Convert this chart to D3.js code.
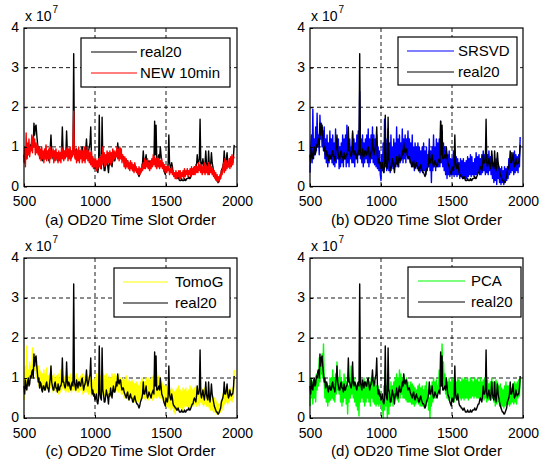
<!DOCTYPE html>
<html lang="en">
<head>
<meta charset="UTF-8"/>
<title>OD20 Time Slot Order</title>
<script src="https://d3js.org/d3.v7.min.js"></script>
<style>
	body { margin: 0; background: #fff; }
	text { font-family: Arial, "Liberation Sans", sans-serif; fill: #000; }
</style>
</head>
<body>
<script>
	var w = 540;	// Width of the SVG
	var h = 465;	// Height of the SVG

	var firstSlot = 500;	// slot of the first sample
	var slotStep = 5;		// one sample every 5 slots

	var xTicks = [500, 1000, 1500, 2000];
	var yTicks = [0, 1, 2, 3, 4];

	// all values in units of 10^7, one row = 100 slots
	var real20 = [
		0.8, 0.6, 0.95, 0.75, 0.7, 0.9, 1.0, 0.8, 0.85, 1.05, 1.0, 1.15, 1.2, 1.0, 1.6, 1.3, 1.5, 1.55, 1.3, 1.1,
		0.9, 1.0, 0.75, 0.9, 0.85, 0.7, 0.65, 0.8, 0.8, 0.7, 0.7, 0.85, 0.9, 0.75, 0.75, 0.65, 0.85, 1.0, 1.3, 0.9,
		0.8, 0.7, 0.7, 0.85, 0.9, 0.75, 0.75, 0.65, 0.85, 0.7, 0.7, 0.8, 0.8, 0.9, 1.5, 0.9, 0.9, 0.8, 0.75, 0.85,
		1.4, 0.9, 0.8, 0.9, 0.85, 0.75, 0.7, 0.85, 0.9, 0.8, 3.35, 0.9, 0.8, 0.7, 0.95, 0.85, 0.75, 0.9, 0.9, 0.8,
		0.8, 0.95, 1.0, 0.85, 0.7, 0.8, 0.85, 0.95, 1.2, 0.9, 0.8, 0.9, 1.0, 1.1, 1.5, 0.8, 0.6, 0.7, 0.55, 0.6,
		0.45, 0.5, 0.6, 0.4, 0.35, 0.5, 1.8, 0.6, 0.5, 0.45, 1.75, 0.7, 0.6, 0.4, 0.4, 0.55, 0.7, 0.6, 0.5, 0.35,
		0.6, 0.55, 0.75, 0.6, 0.5, 0.7, 0.8, 0.65, 0.65, 0.75, 0.9, 0.8, 1.1, 0.9, 0.85, 0.95, 0.95, 0.8, 0.7, 0.75,
		0.75, 0.65, 0.6, 0.55, 0.5, 0.6, 0.65, 0.5, 0.45, 0.55, 0.6, 0.5, 0.5, 0.4, 0.4, 0.5, 0.55, 0.45, 0.4, 0.35,
		0.35, 0.3, 0.25, 0.3, 0.4, 0.45, 0.5, 0.6, 0.9, 0.6, 0.6, 0.7, 0.8, 0.6, 0.5, 0.55, 0.65, 0.6, 0.55, 0.5,
		0.6, 0.65, 0.7, 0.6, 1.65, 0.8, 1.55, 0.7, 0.7, 0.75, 0.8, 0.7, 1.0, 0.8, 0.6, 0.55, 0.5, 0.4, 0.35, 0.3,
		0.5, 0.45, 0.4, 0.55, 1.3, 0.6, 0.5, 0.45, 0.6, 0.5, 0.35, 0.3, 0.3, 0.25, 0.25, 0.2, 0.2, 0.25, 0.2, 0.15,
		0.15, 0.15, 0.2, 0.15, 0.15, 0.15, 0.2, 0.15, 0.15, 0.2, 0.2, 0.2, 0.25, 0.2, 0.2, 0.25, 0.3, 0.35, 0.35, 0.45,
		0.5, 0.45, 0.4, 0.55, 0.8, 0.6, 0.6, 0.7, 1.7, 0.6, 0.5, 0.6, 0.7, 0.55, 0.45, 0.6, 0.9, 0.6, 0.5, 0.45,
		0.9, 0.55, 0.4, 0.6, 0.85, 0.6, 0.5, 0.4, 0.3, 0.25, 0.2, 0.15, 0.15, 0.1, 0.1, 0.15, 0.2, 0.25, 0.4, 0.45,
		0.5, 0.6, 0.9, 0.6, 0.6, 0.7, 0.85, 0.6, 0.5, 0.55, 0.7, 0.6, 0.55, 0.6, 0.6, 0.75, 1.05
	];

	var new10min = [
		0.6, 1.0, 0.5, 1.35, 0.7, 1.1, 0.8, 1.2, 0.75, 1.0, 0.9, 1.3, 0.85, 1.25, 1.0, 1.2, 0.8, 1.1, 0.85, 1.05,
		0.8, 1.0, 0.7, 0.95, 0.65, 1.0, 0.7, 0.9, 0.6, 0.95, 0.7, 1.05, 0.65, 0.9, 0.7, 0.95, 0.6, 1.0, 0.7, 0.9,
		0.75, 0.95, 0.6, 0.9, 0.65, 0.95, 0.7, 0.85, 0.6, 0.9, 0.65, 0.85, 0.6, 1.0, 0.7, 0.95, 0.65, 0.9, 0.7, 0.95,
		0.75, 1.0, 0.65, 0.95, 0.7, 1.0, 0.65, 0.9, 0.75, 1.0, 1.9, 0.8, 0.7, 0.95, 0.6, 0.9, 0.65, 1.0, 0.6, 0.9,
		0.7, 0.95, 0.6, 0.9, 0.65, 1.0, 0.6, 0.9, 0.7, 1.0, 0.65, 0.9, 0.6, 0.85, 0.55, 0.9, 0.5, 0.75, 0.45, 0.7,
		0.5, 0.7, 0.4, 0.65, 0.45, 0.7, 0.5, 0.75, 0.45, 0.8, 0.55, 1.0, 0.6, 0.85, 0.5, 0.8, 0.55, 0.9, 0.6, 0.85,
		0.6, 0.9, 0.55, 0.85, 0.6, 0.95, 0.65, 0.9, 0.7, 0.85, 0.75, 1.0, 0.7, 0.95, 0.65, 1.0, 0.7, 0.95, 0.6, 0.8,
		0.7, 0.5, 0.75, 0.45, 0.7, 0.5, 0.65, 0.45, 0.6, 0.4, 0.65, 0.45, 0.6, 0.4, 0.55, 0.35, 0.6, 0.4, 0.5, 0.35,
		0.45, 0.3, 0.5, 0.3, 0.45, 0.35, 0.55, 0.4, 0.6, 0.45, 0.7, 0.45, 0.65, 0.5, 0.7, 0.45, 0.6, 0.4, 0.65, 0.45,
		0.7, 0.5, 0.8, 0.55, 0.75, 0.5, 0.7, 0.45, 0.75, 0.5, 0.7, 0.45, 0.65, 0.5, 0.7, 0.45, 0.6, 0.4, 0.55, 0.35,
		0.5, 0.35, 0.55, 0.4, 0.5, 0.3, 0.45, 0.35, 0.5, 0.3, 0.4, 0.25, 0.35, 0.2, 0.4, 0.2, 0.35, 0.25, 0.4, 0.2,
		0.4, 0.2, 0.35, 0.25, 0.4, 0.2, 0.45, 0.25, 0.4, 0.3, 0.45, 0.25, 0.4, 0.3, 0.45, 0.25, 0.5, 0.3, 0.45, 0.3,
		0.5, 0.3, 0.55, 0.35, 0.5, 0.35, 0.6, 0.4, 0.55, 0.35, 0.55, 0.3, 0.5, 0.35, 0.6, 0.3, 0.55, 0.35, 0.5, 0.3,
		0.6, 0.3, 0.55, 0.35, 0.5, 0.3, 0.45, 0.25, 0.4, 0.2, 0.35, 0.15, 0.3, 0.1, 0.25, 0.15, 0.3, 0.2, 0.4, 0.3,
		0.45, 0.6, 0.35, 0.7, 0.4, 0.65, 0.45, 0.6, 0.5, 0.7, 0.45, 0.75, 0.5, 0.8, 0.55, 0.7, 0.75
	];

	var srsvd = [
		0.35, 1.0, 1.3, 0.6, 1.95, 0.7, 1.2, 0.8, 1.5, 0.9, 1.85, 1.0, 1.3, 0.8, 1.8, 1.2, 1.6, 1.0, 1.4, 0.9,
		1.5, 0.7, 1.2, 0.6, 1.3, 0.5, 1.1, 0.6, 1.4, 0.7, 1.2, 0.6, 1.3, 0.55, 1.1, 0.5, 1.45, 0.6, 1.2, 0.7,
		1.2, 0.45, 1.0, 0.5, 1.1, 0.6, 1.3, 0.5, 1.2, 0.7, 1.3, 0.5, 1.55, 0.6, 1.1, 0.5, 1.2, 0.7, 1.0, 0.6,
		1.35, 0.6, 1.2, 0.5, 1.1, 0.7, 1.3, 0.6, 1.4, 0.8, 2.4, 0.7, 1.2, 0.6, 1.3, 0.5, 1.1, 0.6, 1.2, 0.7,
		1.3, 0.6, 1.45, 0.5, 1.2, 0.6, 1.3, 0.7, 1.5, 0.6, 1.3, 0.55, 1.2, 0.5, 1.3, 0.45, 1.0, 0.4, 0.9, 0.3,
		0.15, 0.8, 0.4, 1.1, 0.35, 1.7, 0.5, 1.2, 0.4, 1.0, 1.45, 0.4, 1.1, 0.35, 1.3, 0.5, 1.0, 0.45, 1.2, 0.5,
		1.1, 0.5, 1.5, 0.6, 1.2, 0.5, 1.3, 0.6, 1.1, 0.7, 1.45, 0.6, 1.2, 0.7, 1.3, 0.6, 1.2, 0.8, 1.4, 0.7,
		1.2, 0.6, 1.1, 0.5, 1.3, 0.5, 1.0, 0.4, 1.1, 0.5, 1.0, 0.45, 1.1, 0.4, 1.0, 0.35, 0.9, 0.4, 1.0, 0.35,
		1.1, 0.4, 0.9, 0.3, 1.0, 0.4, 0.8, 0.5, 1.2, 0.4, 0.9, 0.1, 1.0, 0.4, 1.3, 0.5, 1.0, 0.4, 1.2, 0.5,
		1.1, 0.5, 1.2, 0.5, 1.65, 0.6, 1.4, 0.5, 1.1, 0.4, 1.0, 0.3, 0.9, 0.2, 0.8, 0.3, 0.9, 0.25, 0.7, 0.3,
		0.7, 0.3, 0.9, 0.25, 0.8, 0.3, 0.75, 0.25, 0.7, 0.3, 0.6, 0.2, 0.7, 0.25, 0.65, 0.2, 0.7, 0.25, 0.6, 0.2,
		0.65, 0.2, 0.75, 0.25, 0.7, 0.3, 0.8, 0.25, 0.75, 0.3, 0.6, 0.25, 0.7, 0.3, 0.85, 0.3, 0.75, 0.35, 0.8, 0.3,
		0.7, 0.3, 0.8, 0.35, 0.9, 0.4, 0.8, 0.3, 1.0, 0.35, 0.8, 0.3, 0.9, 0.4, 0.75, 0.3, 0.8, 0.2, 0.6, 0.1,
		0.6, 0.15, 0.7, 0.05, 0.6, 0.2, 0.5, 0.1, 0.45, 0.05, 0.5, 0.1, 0.4, 0.05, 0.5, 0.1, 0.45, 0.15, 0.5, 0.2,
		0.7, 0.3, 0.6, 0.35, 0.85, 0.4, 0.7, 0.3, 0.9, 0.35, 0.8, 0.4, 0.75, 0.35, 0.8, 0.5, 1.25
	];

	var tomoG = [
		0.45, 1.0, 1.3, 0.7, 1.8, 0.8, 1.2, 0.9, 1.4, 1.0, 1.3, 1.0, 1.75, 1.1, 1.5, 1.2, 1.6, 1.0, 1.3, 1.1,
		1.3, 0.8, 1.2, 0.75, 1.15, 0.7, 1.1, 0.75, 1.2, 0.7, 1.1, 0.75, 1.25, 0.7, 1.05, 0.7, 1.1, 0.75, 1.3, 0.8,
		1.05, 0.65, 1.1, 0.7, 1.0, 0.65, 1.05, 0.7, 1.1, 0.6, 1.0, 0.65, 1.2, 0.7, 1.1, 0.75, 1.05, 0.7, 1.0, 0.65,
		1.15, 0.7, 1.05, 0.65, 1.0, 0.7, 1.1, 0.65, 1.0, 0.7, 1.0, 0.7, 1.05, 0.65, 1.1, 0.7, 1.0, 0.65, 0.95, 0.7,
		1.05, 0.7, 1.1, 0.6, 1.0, 0.65, 1.05, 0.7, 1.1, 0.65, 1.05, 0.6, 1.0, 0.65, 1.05, 0.55, 0.95, 0.6, 0.9, 0.55,
		1.0, 0.6, 1.1, 0.5, 1.05, 0.55, 1.0, 0.6, 1.05, 0.55, 1.0, 0.6, 1.1, 0.55, 1.05, 0.6, 1.1, 0.6, 1.0, 0.55,
		1.05, 0.55, 1.0, 0.6, 1.1, 0.6, 1.05, 0.65, 1.1, 0.65, 1.05, 0.7, 1.0, 0.65, 1.1, 0.7, 1.0, 0.6, 0.95, 0.6,
		1.0, 0.5, 0.95, 0.55, 1.05, 0.5, 0.9, 0.45, 0.95, 0.5, 0.9, 0.5, 0.95, 0.45, 0.9, 0.4, 0.85, 0.4, 0.9, 0.4,
		0.85, 0.4, 0.8, 0.45, 0.9, 0.45, 1.0, 0.5, 0.95, 0.5, 0.9, 0.45, 1.0, 0.5, 0.95, 0.45, 1.0, 0.5, 0.95, 0.5,
		1.0, 0.45, 1.05, 0.5, 0.95, 0.55, 1.05, 0.5, 1.0, 0.55, 1.05, 0.5, 1.0, 0.5, 0.9, 0.45, 0.85, 0.4, 0.8, 0.35,
		0.8, 0.3, 0.75, 0.25, 0.8, 0.3, 0.7, 0.2, 0.75, 0.25, 0.7, 0.15, 0.65, 0.1, 0.7, 0.2, 0.75, 0.2, 0.8, 0.25,
		0.7, 0.25, 0.65, 0.2, 0.75, 0.25, 0.7, 0.3, 0.75, 0.3, 0.65, 0.25, 0.7, 0.25, 0.8, 0.3, 0.75, 0.3, 0.7, 0.3,
		0.75, 0.35, 0.8, 0.3, 0.75, 0.35, 0.7, 0.3, 0.75, 0.4, 0.75, 0.35, 0.7, 0.3, 0.75, 0.35, 0.7, 0.3, 0.65, 0.3,
		0.7, 0.25, 0.65, 0.2, 0.6, 0.2, 0.55, 0.15, 0.5, 0.15, 0.45, 0.1, 0.4, 0.1, 0.35, 0.15, 0.35, 0.15, 0.45, 0.2,
		0.6, 0.3, 0.7, 0.35, 0.75, 0.4, 0.8, 0.35, 0.7, 0.4, 0.75, 0.45, 0.7, 0.4, 0.75, 0.5, 1.2
	];

	var pca = [
		0.3, 1.0, 0.5, 0.9, 0.35, 1.0, 0.5, 0.9, 0.4, 1.1, 0.7, 1.2, 0.8, 1.5, 0.9, 1.3, 1.1, 1.6, 1.0, 1.85,
		0.9, 0.5, 0.8, 0.4, 0.9, 0.3, 0.8, 0.4, 1.0, 0.45, 1.0, 0.5, 1.2, 0.45, 1.0, 0.4, 1.1, 0.6, 1.4, 0.7,
		1.0, 0.6, 1.2, 0.4, 1.0, 0.3, 0.9, 0.4, 1.1, 0.5, 1.0, 0.35, 0.9, 0.1, 0.8, 0.4, 1.0, 0.5, 1.3, 0.6,
		0.9, 0.5, 1.0, 0.4, 0.9, 0.3, 0.8, 0.2, 0.9, 0.05, 0.9, 0.4, 1.0, 0.5, 0.9, 0.4, 1.0, 0.3, 0.85, 0.4,
		0.9, 0.5, 1.0, 0.4, 0.9, 0.3, 1.0, 0.5, 0.9, 0.4, 1.0, 0.35, 0.9, 0.3, 0.8, 0.35, 0.8, 0.3, 0.7, 0.35,
		0.6, 0.2, 0.4, 0.0, 0.8, 0.2, 1.2, 0.3, 0.8, 0.0, 0.6, 0.1, 0.7, 0.3, 0.9, 0.4, 0.8, 0.3, 0.9, 0.4,
		1.0, 0.5, 1.1, 0.45, 1.0, 0.4, 1.2, 0.5, 1.1, 0.6, 1.0, 0.5, 1.1, 0.5, 0.9, 0.45, 1.0, 0.4, 0.9, 0.4,
		0.8, 0.4, 0.9, 0.35, 0.85, 0.35, 0.8, 0.3, 0.75, 0.35, 0.7, 0.4, 0.8, 0.35, 0.85, 0.3, 0.75, 0.3, 0.8, 0.3,
		0.7, 0.25, 0.8, 0.3, 0.9, 0.4, 0.7, 0.2, 0.5, 0.0, 0.8, 0.3, 0.9, 0.4, 1.0, 0.5, 0.9, 0.5, 0.95, 0.6,
		0.8, 0.7, 1.2, 0.8, 1.6, 0.9, 1.85, 1.0, 1.4, 0.8, 1.1, 0.6, 1.0, 0.5, 0.9, 0.45, 1.0, 0.5, 0.9, 0.45,
		1.0, 0.5, 0.95, 0.4, 1.0, 0.5, 0.9, 0.45, 1.0, 0.55, 0.95, 0.5, 0.9, 0.45, 1.0, 0.5, 0.95, 0.45, 1.0, 0.5,
		0.95, 0.5, 1.0, 0.45, 0.9, 0.5, 1.0, 0.5, 0.95, 0.55, 0.9, 0.5, 1.0, 0.55, 0.95, 0.5, 1.0, 0.5, 0.9, 0.5,
		1.0, 0.45, 0.9, 0.5, 0.95, 0.45, 1.0, 0.5, 0.9, 0.4, 0.95, 0.45, 0.85, 0.5, 0.9, 0.45, 1.0, 0.5, 0.9, 0.4,
		0.9, 0.3, 0.95, 0.35, 0.9, 0.4, 0.8, 0.3, 0.85, 0.25, 0.75, 0.3, 0.7, 0.25, 0.8, 0.3, 0.9, 0.35, 0.8, 0.35,
		0.8, 0.3, 0.7, 0.35, 0.75, 0.4, 0.85, 0.35, 0.9, 0.4, 0.85, 0.35, 0.9, 0.5, 0.95, 0.55, 1.0
	];

	// the four panels: plot box, legend box and series (drawn in this order)
	var panels = [
		{ title: "(a) OD20 Time Slot Order", left: 24, right: 237, top: 28, bottom: 186.5,
		  legend: { x: 81, y: 38, w: 149, h: 49, line: [91, 137], text: 140 },
		  series: [ { name: "real20", data: real20, color: "#000000" },
		            { name: "NEW 10min", data: new10min, color: "#ff0000" } ] },
		{ title: "(b) OD20 Time Slot Order", left: 310, right: 523, top: 28, bottom: 186.5,
		  legend: { x: 398, y: 37, w: 119, h: 48, line: [407, 454], text: 458 },
		  series: [ { name: "SRSVD", data: srsvd, color: "#0000ff" },
		            { name: "real20", data: real20, color: "#000000" } ] },
		{ title: "(c) OD20 Time Slot Order", left: 24, right: 237, top: 258, bottom: 418,
		  legend: { x: 114, y: 268, w: 116, h: 49, line: [123, 168], text: 175 },
		  series: [ { name: "TomoG", data: tomoG, color: "#ffff00" },
		            { name: "real20", data: real20, color: "#000000" } ] },
		{ title: "(d) OD20 Time Slot Order", left: 310, right: 523, top: 258, bottom: 418,
		  legend: { x: 408, y: 267, w: 113, h: 50, line: [418, 465], text: 471 },
		  series: [ { name: "PCA", data: pca, color: "#00ff00" },
		            { name: "real20", data: real20, color: "#000000" } ] }
	];

	// Create SVG element
	var svg = d3.select("body")
				.append("svg")
				.attr("width", w)
				.attr("height", h);

	panels.forEach(function(p) {
		var xScale = d3.scaleLinear()
					.domain([500, 2000])
					.range([p.left, p.right]);
		var yScale = d3.scaleLinear()
					.domain([0, 4])
					.range([p.bottom, p.top]);

		var g = svg.append("g");

		// dashed grid (under the data, like matlab)
		g.selectAll(".vgrid")
			.data(xTicks.slice(1, -1))
			.enter()
			.append("line")
			.attr("x1", function(d) { return xScale(d); })
			.attr("x2", function(d) { return xScale(d); })
			.attr("y1", p.top)
			.attr("y2", p.bottom)
			.attr("stroke", "#000")
			.attr("stroke-width", 0.9)
			.attr("stroke-dasharray", "4,3");
		g.selectAll(".hgrid")
			.data(yTicks.slice(1, -1))
			.enter()
			.append("line")
			.attr("x1", p.left)
			.attr("x2", p.right)
			.attr("y1", function(d) { return yScale(d); })
			.attr("y2", function(d) { return yScale(d); })
			.attr("stroke", "#000")
			.attr("stroke-width", 0.9)
			.attr("stroke-dasharray", "4,3");

		// the series
		var line = d3.line()
				.x(function(d, i) { return xScale(firstSlot + i * slotStep); })
				.y(function(d) { return yScale(d); });

		p.series.forEach(function(s) {
			g.append("path")
				.datum(s.data)
				.attr("d", line)
				.attr("fill", "none")
				.attr("stroke", s.color)
				.attr("stroke-width", 1.4)
				.attr("stroke-linejoin", "round");
		});

		// axes with inward ticks
		var xAxis = d3.axisBottom(xScale)
				.tickValues(xTicks)
				.tickFormat(d3.format("d"))
				.tickSizeInner(-3)
				.tickSizeOuter(0)
				.tickPadding(10);
		var yAxis = d3.axisLeft(yScale)
				.tickValues(yTicks)
				.tickFormat(d3.format("d"))
				.tickSizeInner(-3)
				.tickSizeOuter(0)
				.tickPadding(5);

		var gx = g.append("g")
			.attr("transform", "translate(0," + p.bottom + ")")
			.call(xAxis);
		var gy = g.append("g")
			.attr("transform", "translate(" + p.left + ",0)")
			.call(yAxis);
		[gx, gy].forEach(function(a) {
			a.attr("font-family", null).attr("font-size", null);
			a.select(".domain").remove();
			a.selectAll("text").attr("font-size", 14);
			a.selectAll("line").attr("stroke", "#000");
		});
		gy.selectAll("text").attr("dy", "0.25em");

		// plot box
		g.append("rect")
			.attr("x", p.left)
			.attr("y", p.top)
			.attr("width", p.right - p.left)
			.attr("height", p.bottom - p.top)
			.attr("fill", "none")
			.attr("stroke", "#000")
			.attr("stroke-width", 1.2);

		// exponent label "x 10^7"
		var ex = g.append("text")
			.attr("x", p.left + 1)
			.attr("y", p.top - 7)
			.attr("font-size", 14)
			.text("x 10");
		ex.append("tspan")
			.attr("dy", -8)
			.attr("dx", 1)
			.attr("font-size", 10)
			.text("7");

		// legend
		var lg = p.legend;
		g.append("rect")
			.attr("x", lg.x)
			.attr("y", lg.y)
			.attr("width", lg.w)
			.attr("height", lg.h)
			.attr("fill", "#fff")
			.attr("stroke", "#000")
			.attr("stroke-width", 1.2);
		p.series.forEach(function(s, i) {
			var cy = lg.y + 14 + i * 21;
			g.append("line")
				.attr("x1", lg.line[0])
				.attr("x2", lg.line[1])
				.attr("y1", cy)
				.attr("y2", cy)
				.attr("stroke", s.color)
				.attr("stroke-width", 1.2);
			g.append("text")
				.attr("x", lg.text)
				.attr("y", cy + 5)
				.attr("font-size", 15)
				.text(s.name);
		});

		// x label under each panel
		g.append("text")
			.attr("x", (p.left + p.right) / 2)
			.attr("y", p.bottom + 38)
			.attr("text-anchor", "middle")
			.attr("font-size", 15)
			.text(p.title);
	});
</script>
</body>
</html>
